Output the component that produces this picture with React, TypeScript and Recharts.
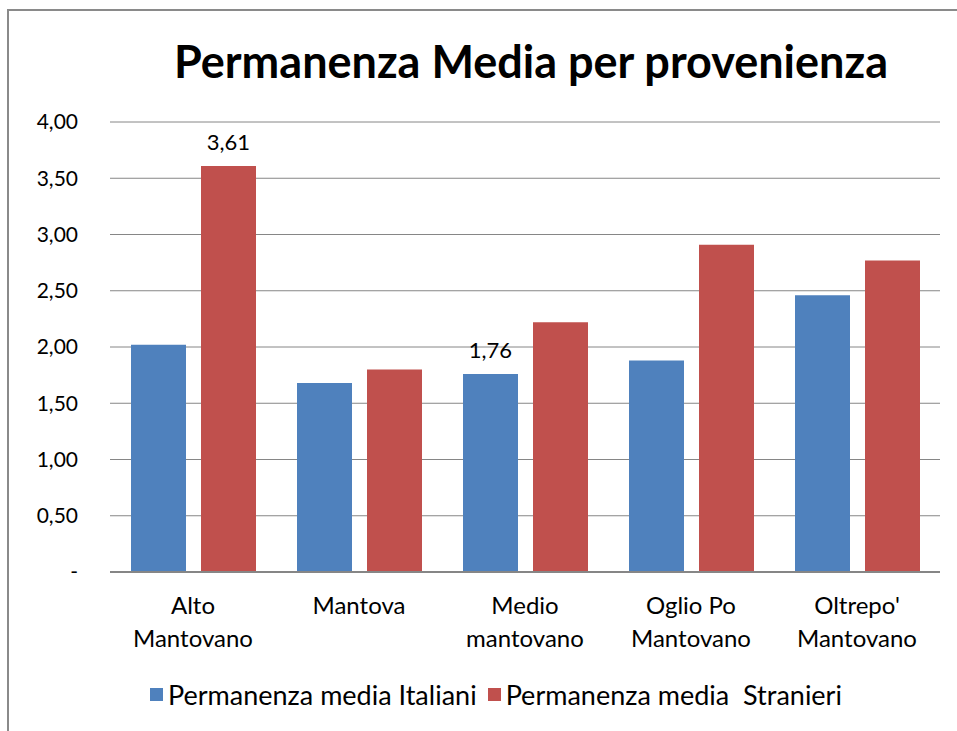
import React from "react"
import { Bar, BarChart, CartesianGrid, LabelList, XAxis, YAxis } from "recharts"

// values
const zones = ["Alto\nMantovano", "Mantova", "Medio\nmantovano", "Oglio Po\nMantovano", "Oltrepo'\nMantovano"]
const italiani = [2.02, 1.68, 1.76, 1.88, 2.46]
const stranieri = [3.61, 1.8, 2.22, 2.91, 2.77]
// only some bars carry a data label in the original
const italianiLabels = [false, false, true, false, false]
const stranieriLabels = [true, false, false, false, false]
const yTicks = [0, 0.5, 1, 1.5, 2, 2.5, 3, 3.5, 4]

const data = zones.map((zone, i) => ({
  zone,
  italiani: italiani[i],
  stranieri: stranieri[i],
}))

const FONT = "Lato, 'Noto Sans', sans-serif"
const BLUE = "#4F81BD"
const RED = "#C0504D"
const GRID = "#868686"

const fmt = (v: number) => (v === 0 ? "-" : v.toFixed(2).replace(".", ","))

const ZoneTick = (props: any) => {
  const { x, y, payload } = props
  const lines = String(payload.value).split("\n")
  return (
    <text x={x} y={y} textAnchor="middle" fill="#000" fontSize={24} fontFamily={FONT}>
      {lines.map((line, i) => (
        <tspan key={i} x={x} dy={i === 0 ? 34 : 33}>
          {line}
        </tspan>
      ))}
    </text>
  )
}

const makeLabel = (flags: boolean[]) => (props: any) => {
  const { x, y, width, value, index } = props
  if (!flags[index]) return null
  return (
    <text x={x + width / 2} y={y - 16} textAnchor="middle" fill="#000" fontSize={22} fontFamily={FONT}>
      {fmt(value)}
    </text>
  )
}

export default function App() {
  return (
    <div style={{ position: "absolute", left: 0, top: 0, width: 957, height: 731, overflow: "hidden", background: "#fff" }}>
      <div
        style={{
          position: "absolute",
          left: 7,
          top: 9,
          width: 1000,
          height: 800,
          border: "2px solid #8a8a8a",
        }}
      />
      <div
        style={{
          position: "absolute",
          left: 0,
          top: 34,
          width: 1062,
          textAlign: "center",
          fontFamily: FONT,
          fontWeight: 700,
          fontSize: 45,
          color: "#000",
        }}
      >
        Permanenza Media per provenienza
      </div>
      <div style={{ position: "absolute", left: 0, top: 0 }}>
        <BarChart
          width={957}
          height={731}
          data={data}
          margin={{ top: 122, right: 17, bottom: 89, left: 0 }}
          barSize={55}
          barGap={15}
        >
          <CartesianGrid horizontal vertical={false} stroke={GRID} />
          <XAxis
            dataKey="zone"
            height={70}
            tick={<ZoneTick />}
            tickLine={false}
            axisLine={{ stroke: GRID, strokeWidth: 2 }}
            interval={0}
          />
          <YAxis
            width={110}
            domain={[0, 4]}
            ticks={yTicks}
            tickFormatter={fmt}
            tickLine={false}
            axisLine={false}
            tickSize={0}
            tickMargin={32}
            tick={{ fill: "#000", fontSize: 21, fontFamily: FONT }}
          />
          <Bar dataKey="italiani" fill={BLUE} isAnimationActive={false}>
            <LabelList dataKey="italiani" content={makeLabel(italianiLabels)} />
          </Bar>
          <Bar dataKey="stranieri" fill={RED} isAnimationActive={false}>
            <LabelList dataKey="stranieri" content={makeLabel(stranieriLabels)} />
          </Bar>
        </BarChart>
      </div>
      <div
        style={{
          position: "absolute",
          left: 150,
          top: 678,
          display: "flex",
          alignItems: "center",
          fontFamily: FONT,
          fontSize: 27,
          color: "#000",
          whiteSpace: "pre",
        }}
      >
        <span style={{ width: 13, height: 13, background: BLUE, display: "inline-block", marginRight: 5 }} />
        <span>Permanenza media Italiani</span>
        <span style={{ width: 13, height: 13, background: RED, display: "inline-block", marginLeft: 11, marginRight: 5 }} />
        <span>Permanenza media  Stranieri</span>
      </div>
    </div>
  )
}
